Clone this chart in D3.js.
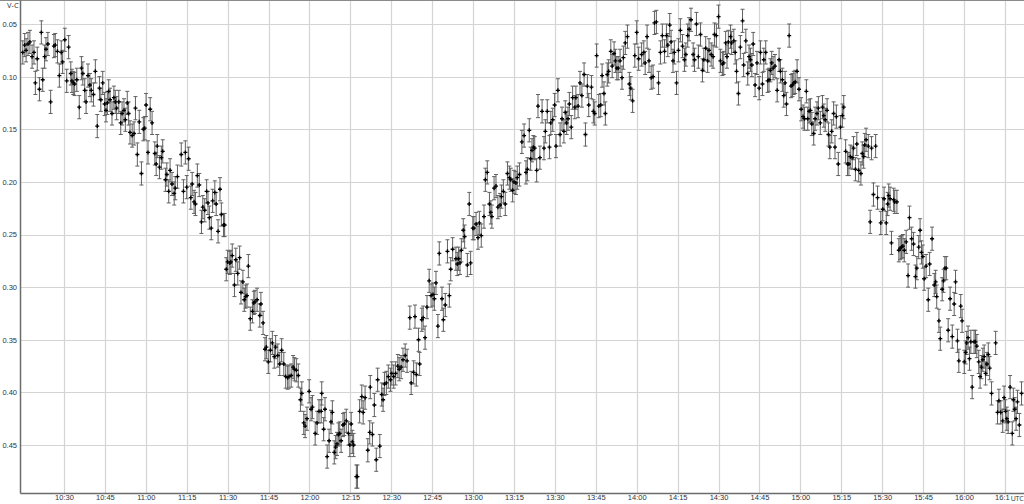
<!DOCTYPE html>
<html>
<head>
<meta charset="utf-8">
<script src="https://cdn.jsdelivr.net/npm/d3@7"></script>
<style>
  body { margin: 0; background: #fff; }
  svg { display: block; font-family: "Open Sans", "Noto Sans", sans-serif; }
</style>
</head>
<body>
<div id="chart"></div>
<script>
'use strict';

// minutes after 10:00 UTC
const timeMin = [
  14.9, 15.6, 16.1, 16.8, 17.5, 18.3, 19.0, 19.5, 20.2, 21.0, 21.7, 22.2, 22.9, 23.4, 24.1, 25.1,
  26.3, 26.8, 27.6, 28.3, 29.0, 29.5, 30.3, 31.0, 31.7, 32.5, 32.9, 33.4, 33.9, 34.7, 35.6, 36.4,
  36.9, 37.6, 38.1, 38.8, 39.5, 40.0, 40.8, 41.5, 42.2, 43.0, 43.5, 44.2, 44.9, 45.4, 45.9, 46.4,
  46.9, 47.6, 48.3, 48.8, 49.3, 50.1, 50.8, 51.3, 52.0, 52.5, 53.2, 53.7, 54.2, 55.0, 55.7, 56.2,
  56.9, 57.6, 58.4, 59.1, 59.6, 60.1, 60.8, 61.6, 62.3, 63.3, 63.8, 64.2, 65.0, 65.7, 66.2, 67.2,
  67.7, 68.4, 68.9, 69.6, 70.4, 70.8, 71.6, 73.0, 73.8, 74.5, 75.0, 75.7, 76.5, 77.0, 77.7, 78.2,
  78.9, 79.6, 80.4, 80.9, 81.6, 82.3, 82.8, 83.3, 84.0, 84.5, 85.3, 85.8, 86.5, 87.2, 87.7, 88.5,
  88.9,
  89.5, 90.0, 90.8, 91.2, 91.7, 92.5, 93.0, 93.7, 94.4, 94.9, 95.6, 96.1, 96.6, 97.1, 97.6, 98.3,
  99.1, 99.6, 100.0, 100.8, 101.8, 102.2, 103.0, 103.7, 104.2, 104.9, 105.7, 106.4, 107.1, 107.6,
  108.4, 109.1, 109.8, 110.6, 111.3, 112.0, 112.5, 113.3, 114.0, 114.5, 115.2, 115.9, 116.7, 117.2,
  117.9, 118.4, 119.1, 119.9, 120.6, 121.1, 122.1, 122.8, 123.5, 124.3, 124.5, 125.2, 125.7, 126.5,
  127.2, 127.9, 128.4, 129.1, 129.6, 130.1, 130.6, 131.1, 131.6, 132.3, 132.8, 133.5, 134.3, 134.8,
  135.3, 135.7, 136.2, 137.2, 137.6, 138.4, 139.2, 139.7, 140.4, 141.4, 142.1, 142.3, 143.1, 143.8,
  144.5, 145.0, 145.8, 146.5, 147.0, 147.5, 148.2, 148.9, 149.7, 150.2, 150.9, 151.6, 152.4, 152.9,
  153.6, 154.3, 155.1, 155.8, 156.8, 157.3, 158.2, 158.7, 159.2, 160.0, 160.4, 161.2, 161.7, 162.4,
  163.1, 163.9, 164.6, 165.3, 165.8,
  166.4, 167.1, 167.6, 168.6, 169.1, 169.8, 170.6, 171.3, 171.8, 172.5, 173.7, 174.2, 174.7, 175.2,
  175.7, 176.4, 176.9, 177.9, 178.6, 179.1, 179.9, 180.3, 181.1, 181.8, 182.3, 183.0, 184.0, 184.5,
  185.2, 186.0, 186.5, 186.9, 187.7, 188.4, 189.1, 189.9, 190.4, 191.1, 191.8, 192.6, 193.3, 193.8,
  194.5, 195.0, 195.7, 196.2, 197.0, 197.9, 198.7, 199.4, 199.9, 200.6, 201.1, 201.6, 202.1, 202.6,
  203.3, 203.8, 204.5, 205.3, 206.0, 206.5, 207.2, 208.0, 208.5, 209.2, 209.9, 210.4, 211.1, 211.9,
  212.6, 213.3, 213.8, 214.3, 214.8, 215.3, 216.0, 216.5, 217.3, 217.7, 218.5, 219.2, 219.9, 220.7,
  221.2, 221.9, 222.4, 223.4, 224.1, 224.6, 225.3, 226.1, 226.8, 227.3, 228.0, 228.5, 229.2, 229.7,
  230.5, 231.0, 231.7, 232.2, 232.7, 233.2, 233.9, 234.6, 235.1, 235.8, 236.6, 237.3, 237.8, 238.5,
  239.3, 240.0, 240.7,
  241.8, 242.6, 243.1, 243.8, 244.5, 245.3, 246.0, 246.5, 247.2, 248.0, 248.7, 249.4, 250.2, 250.9,
  251.4, 252.1, 252.6, 253.3, 253.8, 254.6, 255.3, 256.0, 256.8, 257.5, 258.0, 258.7, 259.2, 259.9,
  260.7, 261.2, 261.9, 262.6, 263.4, 264.1, 264.6, 265.3, 266.0, 266.5, 267.3, 268.0, 268.5, 269.2,
  270.0, 270.7, 271.4, 271.9, 272.6, 273.1, 273.6, 274.4, 274.8, 275.6, 276.1, 276.6, 277.3, 278.0,
  278.8, 279.2, 280.0, 280.7, 281.2, 281.7, 282.2, 282.7, 283.4, 284.1, 284.9, 285.4, 286.1, 286.6,
  287.3, 288.0, 288.5, 289.0, 289.5, 290.0, 290.7, 291.5, 292.2, 292.7, 293.4, 293.9, 294.4, 294.9,
  295.9, 296.6, 297.1, 297.6, 298.1, 298.8, 299.5, 300.3, 301.0, 301.5, 302.2, 302.7, 303.2, 303.7,
  304.2, 304.9, 305.4, 306.1, 306.6, 307.3, 308.1, 308.6, 309.1, 309.8, 310.3, 310.8, 311.5, 312.2,
  312.7, 313.2, 313.9, 314.7, 315.4, 315.9,
  316.6, 317.3, 317.8, 318.3, 319.0, 319.5, 320.2, 320.7, 321.4, 322.2, 322.7, 323.2, 323.6, 324.1,
  324.9, 325.6, 326.1, 326.8, 327.6, 328.3, 329.5, 330.2, 330.7, 331.5, 332.0, 332.4, 332.9, 333.4,
  334.2, 334.6, 335.4, 336.1, 336.6, 337.1, 337.6, 338.1, 338.8, 339.5, 340.0, 340.8, 341.5, 342.2,
  342.7, 343.4, 343.9, 344.4, 344.9, 345.4, 346.1, 346.9, 347.4, 348.3, 349.1, 349.6, 350.0, 350.8,
  351.3, 352.0, 352.5, 353.0, 353.5, 354.2, 354.9, 355.7, 356.4, 356.9, 357.6, 358.1, 358.8, 359.3,
  360.1, 360.6, 361.0, 361.5, 362.0, 362.5, 363.0, 363.7, 364.2, 364.7, 365.4, 365.9, 366.4, 366.9,
  367.4, 367.9, 368.4, 368.9, 369.4, 370.1, 371.6, 372.3, 372.8, 373.5, 374.2, 374.7, 375.2, 375.7,
  376.2, 376.9, 377.7, 378.1, 378.6, 379.1, 379.6, 380.3, 381.1
];

const vcValues = [
  0.077, 0.070, 0.075, 0.069, 0.067, 0.081, 0.077, 0.106, 0.083, 0.112, 0.058, 0.103, 0.081, 0.074, 0.069, 0.124,
  0.071, 0.070, 0.076, 0.099, 0.077, 0.086, 0.065, 0.104, 0.072, 0.097, 0.104, 0.106, 0.107, 0.103, 0.129, 0.092,
  0.097, 0.113, 0.124, 0.099, 0.108, 0.113, 0.117, 0.095, 0.147, 0.111, 0.122, 0.106, 0.126, 0.132, 0.125, 0.114,
  0.122, 0.135, 0.120, 0.124, 0.130, 0.124, 0.144, 0.135, 0.132, 0.141, 0.125, 0.135, 0.153, 0.156, 0.154, 0.130,
  0.174, 0.143, 0.192, 0.150, 0.149, 0.127, 0.172, 0.131, 0.144, 0.173, 0.183, 0.166, 0.186, 0.177, 0.171, 0.198,
  0.193, 0.209, 0.189, 0.202, 0.211, 0.206, 0.195, 0.174, 0.209, 0.172, 0.205, 0.178, 0.215, 0.202, 0.219, 0.221,
  0.194, 0.203, 0.238, 0.224, 0.227, 0.209, 0.220, 0.234, 0.244, 0.218, 0.210, 0.221, 0.247, 0.207, 0.231, 0.241,
  0.241,
  0.283, 0.276, 0.277, 0.276, 0.270, 0.298, 0.274, 0.287, 0.272, 0.305, 0.295, 0.312, 0.309, 0.308, 0.280, 0.330,
  0.323, 0.315, 0.314, 0.312, 0.327, 0.316, 0.334, 0.359, 0.357, 0.371, 0.360, 0.353, 0.366, 0.357,
  0.365, 0.373, 0.360, 0.373, 0.385, 0.386, 0.385, 0.384, 0.376, 0.378, 0.379, 0.384, 0.407, 0.401,
  0.429, 0.432, 0.425, 0.399, 0.416, 0.414, 0.439, 0.429, 0.418, 0.418, 0.401, 0.435, 0.416, 0.461,
  0.446, 0.428, 0.419, 0.457, 0.452, 0.449, 0.440, 0.439, 0.446, 0.431, 0.430, 0.427, 0.439, 0.450,
  0.430, 0.447, 0.450, 0.480, 0.480, 0.418, 0.404, 0.419, 0.405, 0.455, 0.438, 0.395, 0.440, 0.412,
  0.464, 0.388, 0.451, 0.402, 0.407, 0.392, 0.391, 0.385, 0.388, 0.382, 0.385, 0.382, 0.375, 0.378,
  0.376, 0.369, 0.365, 0.370, 0.329, 0.391, 0.381, 0.328, 0.383, 0.350, 0.373, 0.331, 0.329, 0.348,
  0.319, 0.294, 0.308, 0.307, 0.311,
  0.296, 0.337, 0.268, 0.311, 0.331, 0.317, 0.266, 0.308, 0.283, 0.264, 0.273, 0.278, 0.273, 0.277,
  0.265, 0.246, 0.252, 0.279, 0.221, 0.277, 0.244, 0.244, 0.240, 0.253, 0.239, 0.251, 0.233, 0.198,
  0.191, 0.221, 0.229, 0.233, 0.206, 0.204, 0.224, 0.222, 0.214, 0.209, 0.221, 0.192, 0.196, 0.198,
  0.208, 0.200, 0.201, 0.196, 0.193, 0.162, 0.156, 0.191, 0.188, 0.151, 0.178, 0.170, 0.167, 0.168,
  0.189, 0.128, 0.177, 0.133, 0.168, 0.152, 0.133, 0.167, 0.144, 0.141, 0.127, 0.166, 0.113, 0.155,
  0.140, 0.152, 0.134, 0.144, 0.140, 0.126, 0.148, 0.120, 0.129, 0.120, 0.128, 0.106, 0.118, 0.098,
  0.155, 0.109, 0.127, 0.110, 0.133, 0.135, 0.080, 0.128, 0.127, 0.099, 0.116, 0.135, 0.098, 0.095,
  0.076, 0.090, 0.078, 0.085, 0.092, 0.092, 0.085, 0.101, 0.082, 0.068, 0.062, 0.107, 0.111, 0.123,
  0.080, 0.058, 0.083,
  0.079, 0.077, 0.087, 0.062, 0.085, 0.101, 0.100, 0.049, 0.048, 0.106, 0.077, 0.061, 0.076, 0.061,
  0.070, 0.051, 0.067, 0.085, 0.077, 0.106, 0.075, 0.056, 0.071, 0.084, 0.079, 0.061, 0.055, 0.046,
  0.079, 0.084, 0.050, 0.081, 0.060, 0.094, 0.084, 0.073, 0.085, 0.075, 0.079, 0.081, 0.060, 0.061,
  0.043, 0.085, 0.088, 0.087, 0.068, 0.081, 0.067, 0.062, 0.068, 0.066, 0.077, 0.095, 0.116, 0.072,
  0.047, 0.089, 0.066, 0.097, 0.081, 0.084, 0.089, 0.069, 0.108, 0.087, 0.111, 0.077, 0.107, 0.084,
  0.077, 0.104, 0.103, 0.094, 0.087, 0.092, 0.090, 0.113, 0.084, 0.095, 0.103, 0.118, 0.106, 0.126,
  0.061, 0.109, 0.108, 0.106, 0.105, 0.095, 0.112, 0.131, 0.138, 0.140, 0.114, 0.140, 0.133, 0.132,
  0.145, 0.154, 0.140, 0.135, 0.130, 0.144, 0.129, 0.137, 0.141, 0.132, 0.155, 0.167, 0.152, 0.135,
  0.167, 0.138, 0.183, 0.148, 0.137, 0.129,
  0.171, 0.183, 0.183, 0.176, 0.177, 0.168, 0.188, 0.164, 0.189, 0.192, 0.173, 0.176, 0.165, 0.160,
  0.166, 0.238, 0.168, 0.212, 0.166, 0.215, 0.239, 0.226, 0.216, 0.239, 0.221, 0.213, 0.216, 0.258,
  0.217, 0.219, 0.219, 0.265, 0.263, 0.262, 0.261, 0.265, 0.257, 0.289, 0.234, 0.254, 0.259, 0.290,
  0.282, 0.262, 0.246, 0.267, 0.271, 0.292, 0.280, 0.312, 0.278, 0.254, 0.298, 0.295, 0.309, 0.332,
  0.349, 0.302, 0.294, 0.282, 0.282, 0.341, 0.311, 0.347, 0.316, 0.295, 0.351, 0.370, 0.318, 0.332,
  0.371, 0.362, 0.353, 0.348, 0.368, 0.352, 0.395, 0.352, 0.352, 0.356, 0.371, 0.385, 0.376, 0.369,
  0.366, 0.382, 0.373, 0.364, 0.377, 0.401, 0.353, 0.419, 0.408, 0.419, 0.427, 0.405, 0.418, 0.425,
  0.428, 0.395, 0.439, 0.407, 0.416, 0.425, 0.409, 0.431, 0.401
];

const errSize = 0.011;

const xTickMinutes = [30, 45, 60, 75, 90, 105, 120, 135, 150, 165, 180, 195, 210, 225, 240, 255,
  270, 285, 300, 315, 330, 345, 360, 375];
const yTickValues = [0.05, 0.10, 0.15, 0.20, 0.25, 0.30, 0.35, 0.40, 0.45];

(function() {

  let svgPlot = "";

  const m = {
    width: 1024,
    height: 504,
    left: 20,
    right: 0,
    top: 0,
    bottom: 11
  }

  window.onload = function() {
    svgPlot = d3.select('#chart')
      .append('svg')
      .attr('width', m.width)
      .attr('height', m.height);

    let data = timeMin.map((t, i) => ({ t: t, v: vcValues[i] }));
    let map = drawAxes();
    plotData(map, data);
    makeLabels();
  }

  function timeLabel(t) {
    let h = 10 + Math.floor(t / 60);
    let mm = t % 60;
    let s = h + ":" + (mm < 10 ? "0" : "") + mm;
    // last label is cut short to leave room for the unit
    if (t === xTickMinutes[xTickMinutes.length - 1]) s = s.slice(0, 4);
    return s;
  }

  function drawAxes() {
    let xScale = d3.scaleLinear()
      .domain([13.87, 382.0])
      .range([m.left, m.width - m.right]);

    let yScale = d3.scaleLinear()
      .domain([0.0272, 0.4956])
      .range([m.top, m.height - m.bottom]);

    let bottom = m.height - m.bottom;

    // grid
    svgPlot.append('g')
      .selectAll('line')
      .data(xTickMinutes)
      .enter()
      .append('line')
      .attr('x1', d => Math.round(xScale(d)) + 0.5)
      .attr('x2', d => Math.round(xScale(d)) + 0.5)
      .attr('y1', m.top)
      .attr('y2', bottom)
      .attr('stroke', '#d4d4d4')
      .attr('stroke-width', 1.2);

    svgPlot.append('g')
      .selectAll('line')
      .data(yTickValues)
      .enter()
      .append('line')
      .attr('x1', m.left)
      .attr('x2', m.width - m.right)
      .attr('y1', d => Math.round(yScale(d)) + 0.5)
      .attr('y2', d => Math.round(yScale(d)) + 0.5)
      .attr('stroke', '#d4d4d4')
      .attr('stroke-width', 1.2);

    // top frame
    svgPlot.append('line')
      .attr('x1', 0)
      .attr('x2', m.width)
      .attr('y1', 0.5)
      .attr('y2', 0.5)
      .attr('stroke', '#8a8a8a');

    let xAxis = d3.axisBottom(xScale)
      .tickValues(xTickMinutes)
      .tickFormat(timeLabel)
      .tickSize(0)
      .tickPadding(2);
    let gx = svgPlot.append('g')
      .attr('transform', 'translate(0, ' + bottom + ')')
      .call(xAxis);
    gx.select('.domain').attr('stroke', '#6b6b6b').attr('stroke-width', 1.5);
    gx.selectAll('text')
      .style('font-size', '7.5px')
      .attr('fill', '#2e3440');
    gx.selectAll('.tick')
      .filter(d => d === xTickMinutes[xTickMinutes.length - 1])
      .select('text')
      .attr('dx', -3);

    let yAxis = d3.axisLeft(yScale)
      .tickValues(yTickValues)
      .tickFormat(d3.format('.2f'))
      .tickSize(0)
      .tickPadding(3);
    let gy = svgPlot.append('g')
      .attr('transform', 'translate(' + m.left + ', 0)')
      .call(yAxis);
    gy.select('.domain').attr('stroke', '#6b6b6b').attr('stroke-width', 1.5);
    gy.selectAll('text')
      .style('font-size', '7.5px')
      .attr('fill', '#2e3440');

    return {
      x: d => xScale(d.t),
      y: d => yScale(d.v),
      xScale: xScale,
      yScale: yScale
    };
  }

  function plotData(map, data) {
    let yScale = map.yScale;
    let bars = svgPlot.append('g')
      .attr('stroke', '#606060')
      .attr('stroke-width', 1);

    let g = bars.selectAll('.bar')
      .data(data)
      .enter()
      .append('g')
      .attr('class', 'bar');

    g.append('line')
      .attr('x1', map.x)
      .attr('x2', map.x)
      .attr('y1', d => yScale(d.v - errSize))
      .attr('y2', d => yScale(d.v + errSize));
    g.append('line')
      .attr('x1', d => map.x(d) - 2)
      .attr('x2', d => map.x(d) + 2)
      .attr('y1', d => yScale(d.v - errSize))
      .attr('y2', d => yScale(d.v - errSize));
    g.append('line')
      .attr('x1', d => map.x(d) - 2)
      .attr('x2', d => map.x(d) + 2)
      .attr('y1', d => yScale(d.v + errSize))
      .attr('y2', d => yScale(d.v + errSize));

    svgPlot.append('g')
      .selectAll('.dot')
      .data(data)
      .enter()
      .append('path')
      .attr('d', d3.symbol().type(d3.symbolCross).size(9))
      .attr('transform', d => 'translate(' + map.x(d) + ',' + map.y(d) + ')')
      .attr('fill', '#000');
  }

  function makeLabels() {
    svgPlot.append('text')
      .attr('x', 7)
      .attr('y', 8)
      .style('font-size', '7.5px')
      .attr('fill', '#2e3440')
      .text('V-C');

    svgPlot.append('text')
      .attr('x', 1023.5)
      .attr('y', 500.5)
      .attr('text-anchor', 'end')
      .style('font-size', '7px')
      .style('letter-spacing', '-0.2px')
      .attr('fill', '#2e3440')
      .text('UTC');
  }

})();
</script>
</body>
</html>
